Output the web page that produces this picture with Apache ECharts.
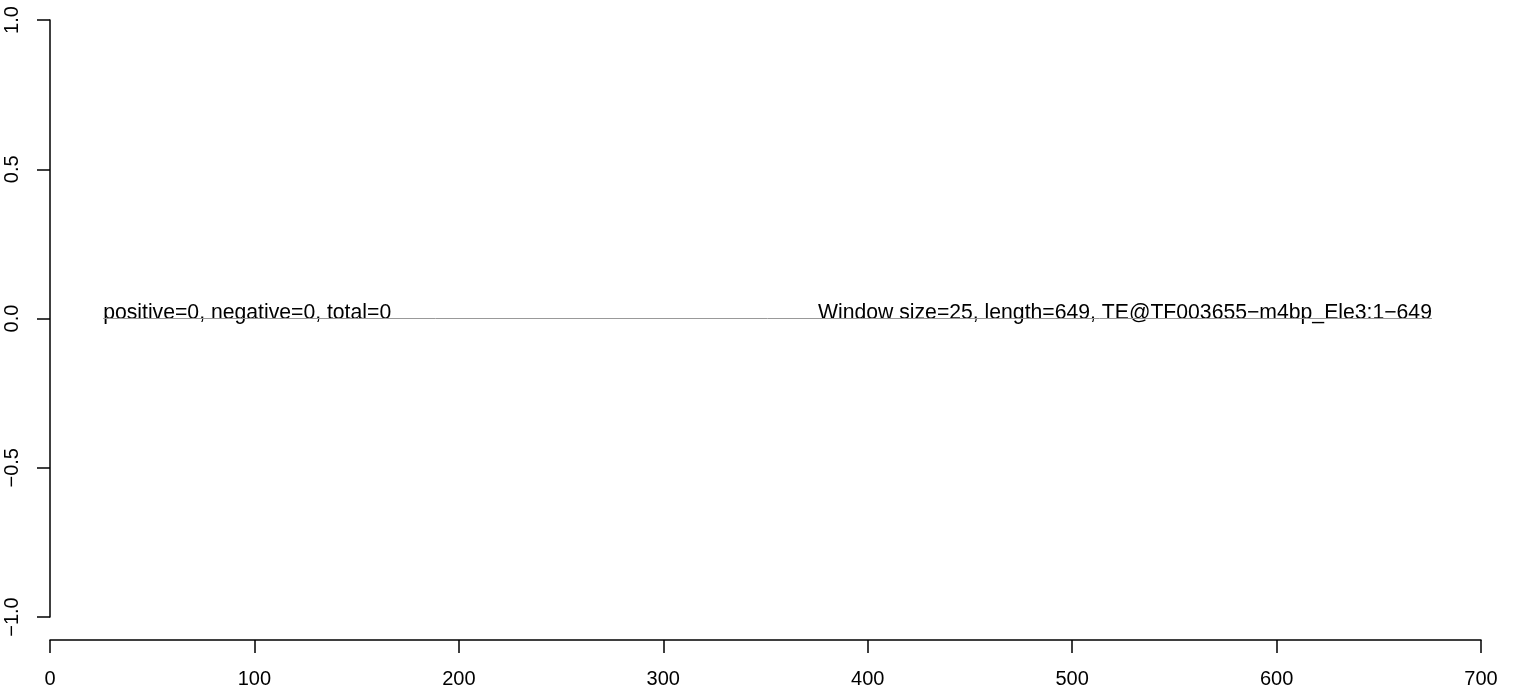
<!DOCTYPE html>
<html>
<head>
<meta charset="utf-8">
<script src="https://cdn.jsdelivr.net/npm/echarts@6/dist/echarts.min.js"></script>
<style>html,body{margin:0;padding:0;background:#fff;}#c{width:1518px;height:691px;}</style>
</head>
<body>
<div id="c"></div>
<script>
// data
var lineX = [26, 676];
var lineY = [0, 0];
var xTicks = [0, 100, 200, 300, 400, 500, 600, 700];
var yTicks = [-1.0, -0.5, 0.0, 0.5, 1.0];
var leftText = 'positive=0, negative=0, total=0';
var rightText = 'Window size=25, length=649, TE@TF003655\u2212m4bp_Ele3:1\u2212649';

var font = 'Liberation Sans, Arial, Helvetica, sans-serif';
var chart = echarts.init(document.getElementById('c'), null, {renderer: 'canvas'});
var lineData = lineX.map(function (x, i) { return [x, lineY[i]]; });
chart.setOption({
  animation: false,
  backgroundColor: '#ffffff',
  grid: {left: 50, right: 37, top: 20, bottom: 74, containLabel: false},
  xAxis: {
    type: 'value', min: 0, max: 700, interval: 100,
    offset: 23,
    axisLine: {show: true, onZero: false, lineStyle: {color: '#000', width: 1.5}},
    axisTick: {show: true, length: 13, lineStyle: {color: '#000', width: 1.5}},
    axisLabel: {color: '#000', fontSize: 20, fontFamily: font, margin: 29,
      formatter: function (v) { return xTicks.indexOf(v) >= 0 ? String(v) : ''; }},
    splitLine: {show: false}
  },
  yAxis: {
    type: 'value', min: -1, max: 1, interval: 0.5,
    axisLine: {show: true, onZero: false, lineStyle: {color: '#000', width: 1.5}},
    axisTick: {show: true, length: 13, lineStyle: {color: '#000', width: 1.5}},
    axisLabel: {color: '#000', fontSize: 20, fontFamily: font, margin: 28, rotate: 90,
      formatter: function (v) {
        var s = v.toFixed(1);
        return s.replace('-', '\u2212');
      }},
    splitLine: {show: false}
  },
  series: [
    {
      type: 'line', data: lineData, showSymbol: false, symbol: 'none',
      lineStyle: {color: '#999999', width: 1}
    },
    {
      type: 'scatter', symbolSize: 0,
      itemStyle: {opacity: 1},
      data: [
        {value: [lineX[0], lineY[0]], label: {show: true, formatter: leftText, position: [0, 5], align: 'left', verticalAlign: 'bottom'}},
        {value: [lineX[1], lineY[1]], label: {show: true, formatter: rightText, position: [0, 5], align: 'right', verticalAlign: 'bottom'}}
      ],
      label: {color: '#000', opacity: 1, fontSize: 21.2, fontFamily: font, textBorderWidth: 0}
    }
  ]
});
</script>
</body>
</html>
